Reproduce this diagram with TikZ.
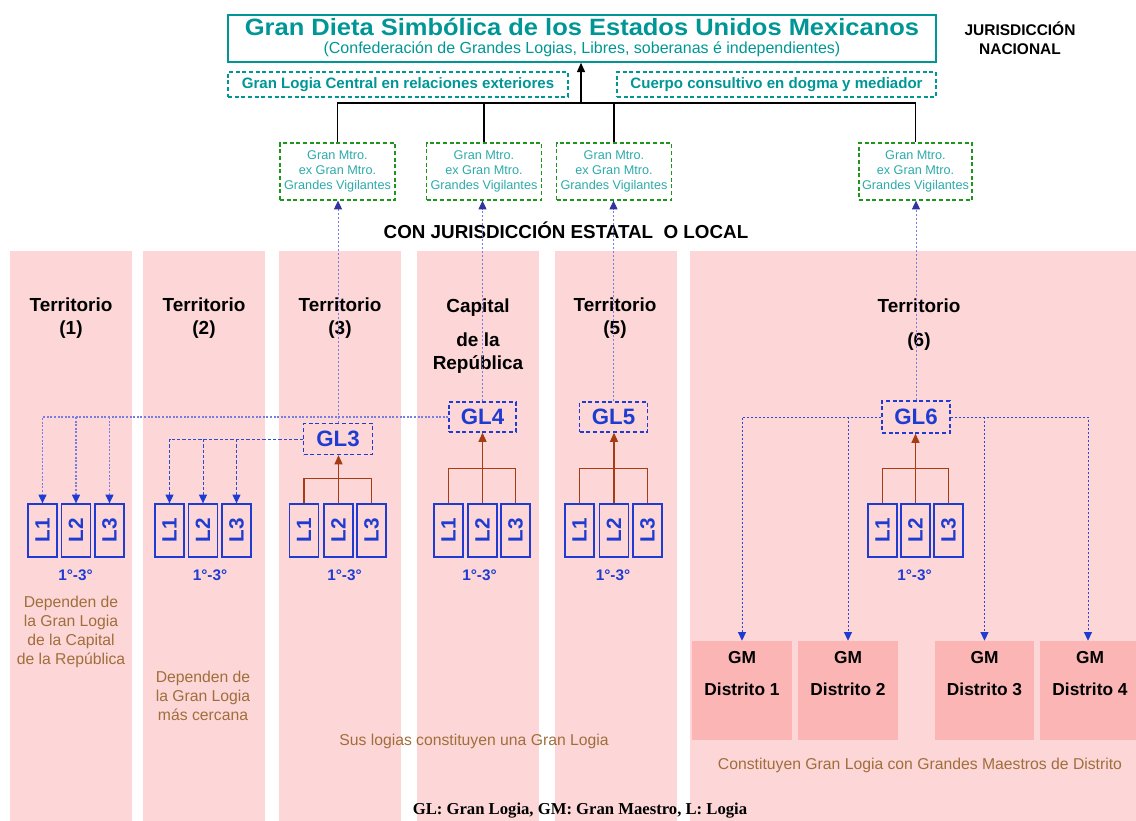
\documentclass[tikz,border=0pt]{standalone}
\usepackage{fontspec}
\setmainfont{Liberation Sans}
\newfontfamily\legendfont{Liberation Serif}
\usepackage{graphicx}
\usetikzlibrary{arrows.meta}
\definecolor{teal1}{RGB}{0,150,150}
\definecolor{teal2}{RGB}{45,170,170}
\definecolor{green1}{RGB}{30,150,30}
\definecolor{pinkbg}{RGB}{253,215,215}
\definecolor{gmpink}{RGB}{251,181,181}
\definecolor{blue1}{RGB}{30,60,210}
\definecolor{lblue}{RGB}{120,125,225}
\definecolor{dblue}{RGB}{45,75,205}
\definecolor{navy1}{RGB}{50,50,160}
\definecolor{brown1}{RGB}{165,60,20}
\definecolor{browntxt}{RGB}{160,110,60}
\begin{document}
\begin{tikzpicture}[x=0.75pt,y=-0.75pt,
  sz/.style 2 args={minimum width=#1*0.75pt, minimum height=#2*0.75pt},
  colbg/.style={fill=pinkbg, inner sep=0pt, draw=none},
  gmbox/.style={fill=gmpink, inner sep=0pt, draw=none},
  gmtext/.style={align=center, font=\fontsize{13}{24}\selectfont\bfseries},
  tealbox/.style={draw=teal1, line width=0.9pt, dash pattern=on 3pt off 2pt, inner sep=0pt, text=teal1, font=\fontsize{11.3}{13}\selectfont\bfseries},
  greenbox/.style={draw=green1, line width=1pt, dash pattern=on 3pt off 2pt, inner sep=0.5pt, text=teal2, align=center, font=\fontsize{9.5}{11.25}\selectfont},
  glbox/.style={draw=blue1, line width=0.9pt, dash pattern=on 3pt off 2pt, inner sep=0pt, text=blue1, font=\fontsize{16.7}{18}\selectfont\bfseries},
  lbox/.style={draw=blue1, line width=1pt, sz={29}{53}, inner sep=0pt, text=blue1, font=\fontsize{15.5}{18}\selectfont\bfseries},
  deg/.style={text=blue1, font=\fontsize{11.5}{13}\selectfont\bfseries},
  head/.style={align=center, font=\fontsize{14.2}{17.25}\selectfont\bfseries},
  brt/.style={align=center, text=browntxt, font=\fontsize{11.8}{14.25}\selectfont},
  trunk/.style={line width=1.1pt, draw=black},
  brline/.style={line width=1.2pt, draw=brown1},
  brarrow/.style={brline, -{Triangle[length=7pt,width=6pt]}},
  uparrow/.style={draw=lblue, line width=0.7pt, dash pattern=on 1.5pt off 1.5pt, -{Triangle[length=6.5pt,width=6pt,color=navy1]}},
  lbarrow/.style={draw=lblue, line width=0.8pt, dash pattern=on 1.5pt off 1.2pt, -{Triangle[length=6.5pt,width=6pt,color=blue1]}},
  dbarrow/.style={draw=dblue, line width=0.7pt, dash pattern=on 2.5pt off 1.5pt, -{Triangle[length=6.5pt,width=6pt,color=blue1]}},
  gbarrow/.style={draw=dblue, line width=0.7pt, dash pattern=on 1.5pt off 1.5pt, -{Triangle[length=6.5pt,width=6pt,color=blue1]}}
]
\useasboundingbox (0,0) rectangle (1136,821);

% columns
\node[colbg, sz={122}{570}] (col1) at (71,536) {};
\node[colbg, sz={122}{570}] (col2) at (204,536) {};
\node[colbg, sz={122}{570}] (col3) at (340,536) {};
\node[colbg, sz={122}{570}] (col4) at (478,536) {};
\node[colbg, sz={122}{570}] (col5) at (616,536) {};
\node[colbg, sz={446}{570}] (col6) at (913,536) {};

% GM boxes
\node[gmbox, sz={100}{99}] (gm1) at (742,690.5) {};
\node[gmbox, sz={100}{99}] (gm2) at (848,690.5) {};
\node[gmbox, sz={99}{99}] (gm3) at (984.5,690.5) {};
\node[gmbox, sz={96}{99}] (gm4) at (1088,690.5) {};
\node[gmtext] (gmt1) at (742,674) {GM\\Distrito 1};
\node[gmtext] (gmt2) at (848,674) {GM\\Distrito 2};
\node[gmtext] (gmt3) at (984.5,674) {GM\\Distrito 3};
\node[gmtext] (gmt4) at (1090,674) {GM\\Distrito 4};

% title
\node[draw=teal1, line width=1.1pt, sz={708}{47}, inner sep=0pt] (title) at (582,38.5) {};
\node[anchor=base, text=teal1, font=\fontsize{17.7}{19}\selectfont\bfseries] (t1) at (582,36) {\scalebox{1.08}[1]{Gran Dieta Simbólica de los Estados Unidos Mexicanos}};
\node[anchor=base, text=teal1, font=\fontsize{12}{13}\selectfont] (t2) at (582,53) {(Confederación de Grandes Logias, Libres, soberanas é independientes)};
\node[align=center, font=\fontsize{11.6}{14.25}\selectfont\bfseries] (jn) at (1020,38.5) {JURISDICCIÓN\\NACIONAL};

\node[tealbox, sz={340}{25}] (rel) at (398,84.5) {Gran Logia Central en relaciones exteriores};
\node[tealbox, sz={319}{25}] (cons) at (776.5,84.5) {Cuerpo consultivo en dogma y mediador};

% green boxes
\node[greenbox, sz={115}{57}] (g1) at (337.5,171.5) {Gran Mtro.\\ex Gran Mtro.\\Grandes Vigilantes};
\node[greenbox, sz={115}{57}] (g2) at (484,171.5) {Gran Mtro.\\ex Gran Mtro.\\Grandes Vigilantes};
\node[greenbox, sz={115}{57}] (g3) at (614,171.5) {Gran Mtro.\\ex Gran Mtro.\\Grandes Vigilantes};
\node[greenbox, sz={113}{57}] (g4) at (915.5,171.5) {Gran Mtro.\\ex Gran Mtro.\\Grandes Vigilantes};

\node[font=\fontsize{14.1}{16}\selectfont\bfseries] (cj) at (566,230) {CON JURISDICCIÓN ESTATAL\ \ O LOCAL};

% headings
\node[head] (h1) at (71,318.5) {Territorio\\(1)};
\node[head] (h2) at (204,318.5) {Territorio\\(2)};
\node[head] (h3) at (340,318.5) {Territorio\\(3)};
\node[head] (h4) at (478,336) {Capital\\[8.25pt]de la\\República};
\node[head] (h5) at (615,318.5) {Territorio\\(5)};
\node[head] (h6) at (919,324.5) {Territorio\\[8.25pt](6)};

% GL boxes
\node[glbox, sz={69}{31}] (gl3) at (338,439) {GL3};
\node[glbox, sz={67}{30}] (gl4) at (482.5,417) {GL4};
\node[glbox, sz={68}{30}] (gl5) at (613.5,417) {GL5};
\node[glbox, sz={68}{32}] (gl6) at (916,417) {GL6};

% L boxes
\foreach \p/\xa/\xb/\xc in {a/42.5/76/109.5, b/169.5/203/236.5, c/304/338.5/371.5, d/448.5/482.5/515.5, e/579.5/614/647.5, f/882.5/915.5/948.5}{
  \node[lbox] (\p1) at (\xa,530.5) {\rotatebox{90}{L1}};
  \node[lbox] (\p2) at (\xb,530.5) {\rotatebox{90}{L2}};
  \node[lbox] (\p3) at (\xc,530.5) {\rotatebox{90}{L3}};
}
\node[deg] (dg1) at (75.5,575) {1°-3°};
\node[deg] (dg2) at (210,575) {1°-3°};
\node[deg] (dg3) at (344.5,575) {1°-3°};
\node[deg] (dg4) at (479.5,575) {1°-3°};
\node[deg] (dg5) at (613,575) {1°-3°};
\node[deg] (dg6) at (914.5,575) {1°-3°};

% brown texts
\node[brt] (dep1) at (71,631.5) {Dependen de\\la Gran Logia\\de la Capital\\de la República};
\node[brt] (dep2) at (203,696) {Dependen de\\la Gran Logia\\más cercana};
\node[brt] (sus) at (474,741) {Sus logias constituyen una Gran Logia};
\node[brt] (cgl) at (920,765) {Constituyen Gran Logia con Grandes Maestros de Distrito};

\node[font=\legendfont\fontsize{12.5}{14}\selectfont\bfseries] (leg) at (580,811) {GL: Gran Logia, GM: Gran Maestro, L: Logia};

% top trunk
\coordinate (hub) at (581,103);
\draw[trunk] (g1.north) |- (g4.north |- hub) -- (g4.north);
\draw[trunk] (g2.north) -- (g2.north |- hub);
\draw[trunk] (g3.north) -- (g3.north |- hub);
\draw[trunk, -{Triangle[length=7pt,width=6pt]}] (hub) -- (hub |- title.south);

% up arrows
\draw[uparrow] (gl3.north) -- (gl3.north |- g1.south);
\draw[uparrow] (gl4.north) -- (gl4.north |- g2.south);
\draw[uparrow] (gl5.north) -- (gl5.north |- g3.south);
\draw[uparrow] (gl6.north) -- (gl6.north |- g4.south);

% GL4 -> territory 1
\draw[lbarrow] (gl4.west) -| (a1.north);
\draw[lbarrow] (gl4.west -| a2.north) -- (a2.north);
\draw[lbarrow] (gl4.west -| a3.north) -- (a3.north);
% GL3 -> territory 2
\draw[dbarrow] (gl3.west) -| (b1.north);
\draw[dbarrow] (gl3.west -| b2.north) -- (b2.north);
\draw[dbarrow] (gl3.west -| b3.north) -- (b3.north);
% GL6 -> GM
\draw[gbarrow] (gl6.west) -| (gm1.north);
\draw[gbarrow] (gl6.west -| gm2.north) -- (gm2.north);
\draw[gbarrow] (gl6.east) -| (gm4.north);
\draw[gbarrow] (gl6.east -| gm3.north) -- (gm3.north);

% brown trees
\draw[brline] (c1.north) -- ++(0,-25) -| (c3.north);
\draw[brarrow] (c2.north) -- (c2.north |- gl3.south);
\draw[brline] (d1.north) -- ++(0,-35) -| (d3.north);
\draw[brarrow] (d2.north) -- (d2.north |- gl4.south);
\draw[brline] (e1.north) -- ++(0,-35) -| (e3.north);
\draw[brarrow] (e2.north) -- (e2.north |- gl5.south);
\draw[brline] (f1.north) -- ++(0,-35) -| (f3.north);
\draw[brarrow] (f2.north) -- (f2.north |- gl6.south);
\end{tikzpicture}
\end{document}
